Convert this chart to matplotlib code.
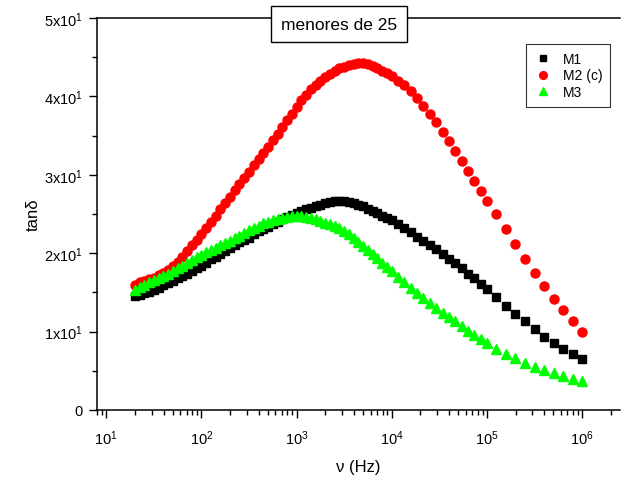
import matplotlib
matplotlib.use("Agg")
import matplotlib.pyplot as plt
from matplotlib.ticker import FixedLocator, LogLocator, NullFormatter

plt.rcParams['font.family'] = ['Liberation Sans', 'DejaVu Sans']
plt.rcParams['mathtext.fontset'] = 'custom'
plt.rcParams['mathtext.rm'] = 'Liberation Sans'
plt.rcParams['mathtext.default'] = 'regular'

# frecuencias (Hz)
freq = [20, 22.4, 25.1, 28.2, 31.6, 35.5, 39.8, 44.7, 50.1, 56.2,
        63.1, 70.8, 79.4, 89.1, 100, 112, 126, 141, 158, 178,
        200, 224, 251, 282, 316, 355, 398, 447, 501, 562,
        631, 708, 794, 891, 1000, 1122, 1259, 1413, 1585, 1778,
        1995, 2239, 2512, 2818, 3162, 3548, 3981, 4467, 5012, 5623,
        6310, 7079, 7943, 8913, 10000,
        11660, 13590, 15850, 18480, 21540, 25120, 29290, 34150, 39810, 46420,
        54120, 63100, 73560, 85770, 100000,
        125900, 158500, 199500, 251200, 316200, 398100, 501200, 631000, 794300, 1000000]

m1 = [14.6, 14.7, 14.9, 15.1, 15.3, 15.6, 15.9, 16.2, 16.5, 16.8,
      17.1, 17.4, 17.7, 18.1, 18.4, 18.8, 19.2, 19.5, 19.9, 20.3,
      20.7, 21.0, 21.4, 21.7, 22.0, 22.4, 22.8, 23.1, 23.4, 23.7,
      24.0, 24.3, 24.6, 24.9, 25.1, 25.4, 25.6, 25.8, 26.0, 26.2,
      26.4, 26.5, 26.6, 26.6, 26.6, 26.5, 26.4, 26.2, 26.0, 25.7,
      25.4, 25.1, 24.8, 24.5, 24.2,
      23.7, 23.2, 22.7, 22.1, 21.6, 21.1, 20.5, 19.9, 19.3, 18.7,
      18.1, 17.4, 16.8, 16.1, 15.4,
      14.4, 13.3, 12.3, 11.3, 10.3, 9.3, 8.5, 7.8, 7.1, 6.5]

m2 = [16.0, 16.3, 16.5, 16.7, 16.9, 17.2, 17.5, 17.9, 18.4, 18.9,
      19.5, 20.3, 21.0, 21.7, 22.4, 23.2, 24.0, 24.8, 25.6, 26.4,
      27.2, 28.0, 28.8, 29.6, 30.4, 31.2, 32.0, 32.8, 33.6, 34.4,
      35.2, 36.1, 37.0, 37.8, 38.7, 39.5, 40.2, 40.9, 41.5, 42.0,
      42.5, 42.9, 43.3, 43.6, 43.8, 44.0, 44.1, 44.2, 44.2, 44.1,
      43.9, 43.6, 43.3, 43.0, 42.6,
      42.0, 41.5, 40.7, 39.8, 38.8, 37.8, 36.7, 35.5, 34.3, 33.0,
      31.8, 30.5, 29.2, 27.9, 26.7,
      25.0, 23.1, 21.2, 19.3, 17.5, 15.8, 14.2, 12.8, 11.3, 10.0]

m3 = [15.3, 15.7, 16.0, 16.3, 16.6, 16.8, 17.1, 17.4, 17.7, 18.1,
      18.4, 18.8, 19.1, 19.5, 19.8, 20.1, 20.4, 20.7, 21.0, 21.3,
      21.6, 21.9, 22.2, 22.6, 22.9, 23.2, 23.5, 23.8, 24.0, 24.2,
      24.4, 24.5, 24.6, 24.7, 24.7, 24.7, 24.6, 24.5, 24.3, 24.1,
      23.9, 23.7, 23.5, 23.2, 22.8, 22.4, 21.9, 21.4, 20.9, 20.4,
      19.9, 19.4, 18.8, 18.3, 17.7,
      17.0, 16.3, 15.6, 14.9, 14.3, 13.6, 13.0, 12.4, 11.8, 11.3,
      10.7, 10.1, 9.6, 9.0, 8.5,
      7.8, 7.2, 6.6, 6.0, 5.5, 5.1, 4.7, 4.3, 4.0, 3.7]

y_ticks = [0, 10, 20, 30, 40, 50]
y_labels = ['0', '1x10$^{1}$', '2x10$^{1}$', '3x10$^{1}$', '4x10$^{1}$', '5x10$^{1}$']

fig = plt.figure(figsize=(6.21, 4.81), dpi=100)
ax = fig.add_axes([97/621, 70/481, 523/621, 392/481])

ax.plot(freq, m1, 's', color='black', markersize=5.8, label='M1')
ax.plot(freq, m2, 'o', color='#ff0000', markersize=6.5, label='M2 (c)')
ax.plot(freq, m3, '^', color='#00ff00', markersize=7, label='M3')

ax.set_xscale('log')
ax.set_xlim(8, 2.5e6)
ax.set_ylim(0, 50)

ax.xaxis.set_minor_locator(LogLocator(base=10, subs=range(2, 10), numticks=40))
ax.xaxis.set_minor_formatter(NullFormatter())
ax.set_xticks([1e1, 1e2, 1e3, 1e4, 1e5, 1e6])
ax.set_xticklabels(['10$^{1}$', '10$^{2}$', '10$^{3}$', '10$^{4}$', '10$^{5}$', '10$^{6}$'])

ax.set_yticks(y_ticks)
ax.set_yticklabels(y_labels)
ax.yaxis.set_minor_locator(FixedLocator([5, 15, 25, 35, 45]))

ax.tick_params(which='major', direction='out', length=6, width=1, labelsize=10.5, colors='black')
ax.tick_params(which='minor', direction='out', length=3.5, width=1)
ax.tick_params(axis='x', which='major', pad=7)
ax.tick_params(axis='y', which='major', pad=4)

for side in ['left', 'bottom', 'top']:
    ax.spines[side].set_linewidth(1.1)
ax.spines['right'].set_visible(False)

ax.set_xlabel('ν (Hz)', fontsize=12)
ax.set_ylabel('tanδ', fontsize=12)
ax.xaxis.set_label_coords(0.5, -0.125)
ax.yaxis.set_label_coords(-0.108, 0.5)

leg = ax.legend(loc='upper right', bbox_to_anchor=(610/621, 1 - 45/481),
                bbox_transform=fig.transFigure, borderaxespad=0, fontsize=10,
                frameon=True, fancybox=False, edgecolor='black', handletextpad=0.8,
                borderpad=0.55, labelspacing=0.2, handlelength=1.3,
                markerscale=0.85)
leg.get_frame().set_linewidth(0.8)

fig.text(339/621, 1 - 25/481, 'menores de 25', ha='center', va='center', fontsize=12.5,
         bbox=dict(boxstyle='square,pad=0.6', facecolor='white', edgecolor='black', linewidth=1))

fig.savefig('out.png', dpi=100)
